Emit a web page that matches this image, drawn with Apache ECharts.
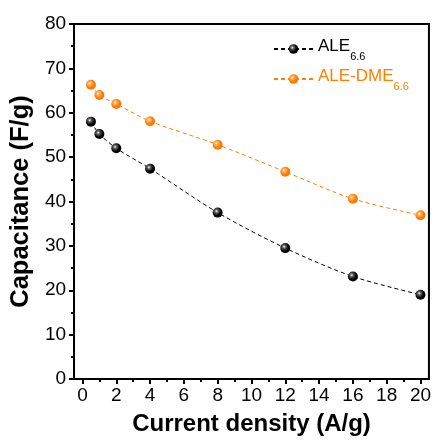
<!DOCTYPE html>
<html>
<head>
<meta charset="utf-8">
<script src="https://cdn.jsdelivr.net/npm/echarts@6/dist/echarts.min.js"></script>
<style>html,body{margin:0;padding:0;background:#fff}#c{width:434px;height:441px}</style>
</head>
<body>
<div id="c"></div>
<script>
const currentDensity = [0.5, 1, 2, 4, 8, 12, 16, 20];
const ale = [58.0, 55.2, 52.0, 47.4, 37.5, 29.5, 23.1, 19.0];
const aleDme = [66.3, 64.0, 62.0, 58.1, 52.8, 46.7, 40.6, 36.9];
const xMajorTicks = [0, 2, 4, 6, 8, 10, 12, 14, 16, 18, 20];
const xMinorTicks = [1, 3, 5, 7, 9, 11, 13, 15, 17, 19];

const FONT = 'Liberation Sans, Arial, sans-serif';
const ORANGE = '#FF8000';

function sphere(base, mid) {
  return {
    type: 'radial', x: 0.38, y: 0.36, r: 0.62,
    colorStops: [
      { offset: 0, color: '#ffffff' },
      { offset: 0.25, color: mid },
      { offset: 0.7, color: base },
      { offset: 1, color: base }
    ]
  };
}

const chart = echarts.init(document.getElementById('c'));
chart.setOption({
  animation: false,
  backgroundColor: '#fff',
  grid: { left: 72, right: 4, top: 24, bottom: 59, show: true, borderColor: '#000', borderWidth: 2, backgroundColor: 'transparent' },
  legend: {
    orient: 'vertical', left: 273, top: 38, padding: 0,
    itemWidth: 39, itemHeight: 12, itemGap: 6,
    textStyle: {
      fontFamily: FONT,
      rich: {
        a: { fontSize: 17, color: '#000', fontFamily: FONT, lineHeight: 22, verticalAlign: 'top' },
        as: { fontSize: 11, color: '#000', fontFamily: FONT, lineHeight: 11, padding: [13, 0, 0, 0], verticalAlign: 'top' },
        b: { fontSize: 17, color: ORANGE, fontFamily: FONT, lineHeight: 22, verticalAlign: 'top' },
        bs: { fontSize: 11, color: ORANGE, fontFamily: FONT, lineHeight: 11, padding: [13, 0, 0, 0], verticalAlign: 'top' }
      }
    },
    formatter: function (name) {
      if (name === 'ALE') return '{a|ALE}{as|6.6}';
      return '{b|ALE-DME}{bs|6.6}';
    },
    data: ['ALE', 'ALE-DME']
  },
  xAxis: [{
    type: 'value', min: -0.5, max: 20.5,
    name: 'Current density (A/g)', nameLocation: 'middle', nameGap: 33,
    nameTextStyle: { fontFamily: FONT, fontSize: 24, fontWeight: 'bold', color: '#000' },
    axisLine: { show: true, onZero: false, lineStyle: { color: '#000', width: 2 } },
    axisTick: { show: true, inside: false, length: 5, lineStyle: { color: '#000', width: 2 }, customValues: xMajorTicks },
    axisLabel: { show: true, color: '#000', fontFamily: FONT, fontSize: 19, margin: 7, customValues: xMajorTicks },
    splitLine: { show: false }
  }, {
    type: 'value', min: -0.5, max: 20.5, position: 'bottom', gridIndex: 0,
    axisLine: { show: false },
    axisTick: { show: true, inside: false, length: 3, lineStyle: { color: '#000', width: 2 }, customValues: xMinorTicks },
    axisLabel: { show: false },
    splitLine: { show: false }
  }],
  yAxis: {
    type: 'value', min: 0, max: 80, interval: 10,
    name: 'Capacitance (F/g)', nameLocation: 'middle', nameGap: 38,
    nameTextStyle: { fontFamily: FONT, fontSize: 25.5, fontWeight: 'bold', color: '#000' },
    axisLine: { show: true, onZero: false, lineStyle: { color: '#000', width: 2 } },
    axisTick: { show: true, inside: false, length: 5, lineStyle: { color: '#000', width: 2 } },
    minorTick: { show: true, splitNumber: 2, length: 3, lineStyle: { color: '#000', width: 2 } },
    axisLabel: { color: '#000', fontFamily: FONT, fontSize: 19, margin: 8 },
    splitLine: { show: false }
  },
  series: [{
    name: 'ALE', type: 'line', smooth: 0.3,
    data: currentDensity.map((x, i) => [x, ale[i]]),
    symbol: 'circle', symbolSize: 10,
    itemStyle: { color: sphere('#000000', '#666666') },
    lineStyle: { color: '#000', width: 1, type: [4, 3] },
    z: 3
  }, {
    name: 'ALE-DME', type: 'line', smooth: 0.3,
    data: currentDensity.map((x, i) => [x, aleDme[i]]),
    symbol: 'circle', symbolSize: 10,
    itemStyle: { color: sphere('#FF7A00', '#FFB060') },
    lineStyle: { color: ORANGE, width: 1, type: [4, 3] },
    z: 3
  }]
});
</script>
</body>
</html>
